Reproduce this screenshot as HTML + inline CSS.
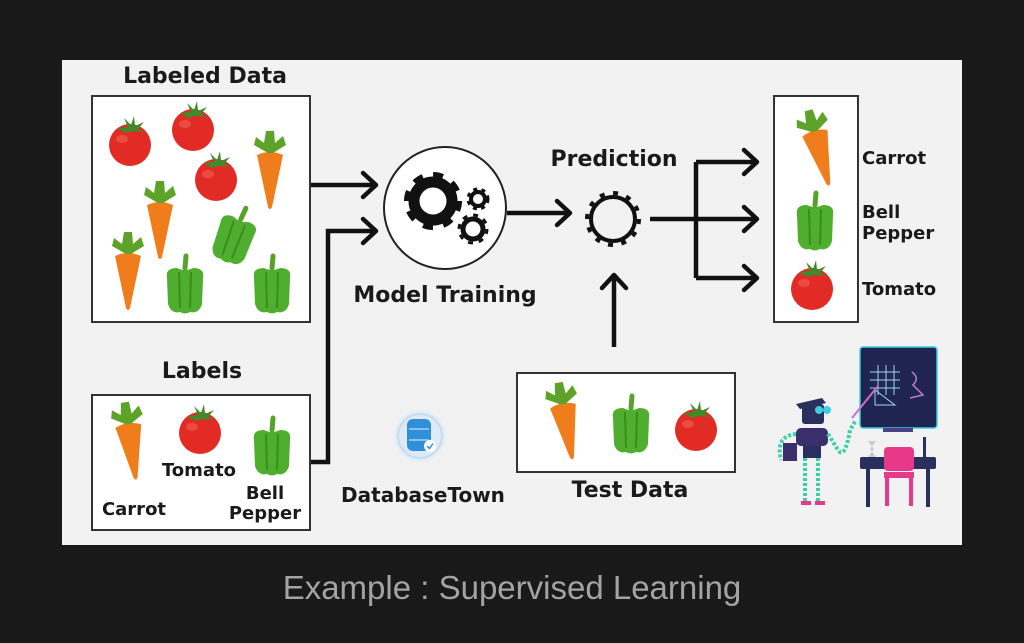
<!DOCTYPE html>
<html><head><meta charset="utf-8"><style>
html,body{margin:0;padding:0;background:#191919;width:1024px;height:643px;overflow:hidden}
svg{display:block}
text{font-family:"DejaVu Sans","Liberation Sans",sans-serif;font-weight:bold;fill:#1a1a1a}
</style></head><body>
<svg width="1024" height="643" viewBox="0 0 1024 643" xmlns="http://www.w3.org/2000/svg">
<defs>
<g id="tom">
 <circle cx="0" cy="3" r="21" fill="#e12b24"/>
 <ellipse cx="-8" cy="-3" rx="6" ry="4" fill="#f06058" opacity=".6"/>
 <path d="M-13,-14 L-2,-15 L-6,-24 L1,-17 L4,-26 L5,-16 L14,-20 L8,-13 L16,-10 L2,-11 L-4,-9 Z" fill="#3f8a2a"/>
</g>
<g id="car">
 <path d="M-13,-12 Q0,-18 13,-12 L2,40 Q0,44 -2,40 Z" fill="#f07d1c"/>
 <path d="M-2,-14 L-16,-22 L-14,-30 L-6,-24 L-4,-36 L4,-36 L5,-24 L13,-31 L16,-22 L3,-14 Z" fill="#5ea329"/>
</g>
<g id="pep">
 <path d="M-18,-10 Q-20,-20 -8,-20 Q0,-16 8,-20 Q20,-20 18,-10 L17,16 Q14,26 5,24 Q0,27 -5,24 Q-14,26 -17,16 Z" fill="#4fae2d"/>
 <path d="M-6,-16 L-5,20 M6,-16 L5,20" stroke="#3a8c20" stroke-width="2" fill="none"/>
 <path d="M0,-20 L1,-32" stroke="#5aa12c" stroke-width="5" stroke-linecap="round"/>
</g>
<g id="arrR"><path d="M-13,-12 L0,0 L-13,12" fill="none" stroke="#111" stroke-width="4.5" stroke-linecap="round" stroke-linejoin="round"/></g>
</defs>
<rect x="62" y="60" width="900" height="485" fill="#f2f2f2"/>

<text x="205" y="83" font-size="22" text-anchor="middle">Labeled Data</text>
<rect x="92" y="96" width="218" height="226" fill="#fff" stroke="#333" stroke-width="2"/>
<use href="#tom" x="130" y="142"/>
<use href="#tom" x="193" y="127"/>
<use href="#tom" x="216" y="177"/>
<use href="#car" x="270" y="167"/>
<use href="#car" x="160" y="217"/>
<use href="#car" x="128" y="268"/>
<use href="#pep" x="234" y="238" transform="rotate(20 234 238)"/>
<use href="#pep" x="185" y="288"/>
<use href="#pep" x="272" y="288"/>

<line x1="311" y1="185" x2="375" y2="185" stroke="#111" stroke-width="4.5"/>
<use href="#arrR" x="376" y="185"/>
<path d="M311,462 L328,462 L328,231 L375,231" fill="none" stroke="#111" stroke-width="4.5"/>
<use href="#arrR" x="376" y="231"/>

<circle cx="445" cy="208" r="61" fill="#fff" stroke="#222" stroke-width="2"/>
<circle cx="433" cy="201" r="19" fill="none" stroke="#111" stroke-width="11"/>
<circle cx="433" cy="201" r="26" fill="none" stroke="#111" stroke-width="6" stroke-dasharray="10 10.4"/>
<circle cx="478" cy="199" r="7" fill="none" stroke="#111" stroke-width="4"/>
<circle cx="478" cy="199" r="10" fill="none" stroke="#111" stroke-width="3" stroke-dasharray="4 4.4"/>
<circle cx="473" cy="229" r="10" fill="none" stroke="#111" stroke-width="5"/>
<circle cx="473" cy="229" r="14" fill="none" stroke="#111" stroke-width="3" stroke-dasharray="5 6"/>
<text x="445" y="302" font-size="22" text-anchor="middle">Model Training</text>

<line x1="507" y1="213" x2="568" y2="213" stroke="#111" stroke-width="4.5"/>
<use href="#arrR" x="570" y="213"/>
<circle cx="613" cy="219" r="22" fill="none" stroke="#111" stroke-width="4"/>
<circle cx="613" cy="219" r="26" fill="none" stroke="#111" stroke-width="4" stroke-dasharray="5 8.6"/>
<text x="614" y="166" font-size="22" text-anchor="middle">Prediction</text>

<path d="M650,219 L696,219 M696,162 L696,278 M696,162 L755,162 M696,278 L755,278 M696,219 L755,219" fill="none" stroke="#111" stroke-width="4.5"/>
<use href="#arrR" x="757" y="162"/>
<use href="#arrR" x="757" y="219"/>
<use href="#arrR" x="757" y="278"/>

<rect x="774" y="96" width="84" height="226" fill="#fff" stroke="#333" stroke-width="2"/>
<use href="#car" x="818" y="145" transform="rotate(-15 818 145)"/>
<use href="#pep" x="815" y="225"/>
<use href="#tom" x="812" y="286"/>
<text x="862" y="164" font-size="18">Carrot</text>
<text x="862" y="218" font-size="18">Bell</text>
<text x="862" y="239" font-size="18">Pepper</text>
<text x="862" y="295" font-size="18">Tomato</text>

<line x1="614" y1="347" x2="614" y2="276" stroke="#111" stroke-width="4.5"/>
<path d="M602,288 L614,275 L626,288" fill="none" stroke="#111" stroke-width="4.5" stroke-linecap="round" stroke-linejoin="round"/>

<rect x="517" y="373" width="218" height="99" fill="#fff" stroke="#333" stroke-width="2"/>
<use href="#car" x="565" y="418" transform="rotate(-10 565 418)"/>
<use href="#pep" x="631" y="428"/>
<use href="#tom" x="696" y="427"/>
<text x="630" y="497" font-size="22" text-anchor="middle">Test Data</text>

<text x="202" y="378" font-size="22" text-anchor="middle">Labels</text>
<rect x="92" y="395" width="218" height="135" fill="#fff" stroke="#333" stroke-width="2"/>
<use href="#car" x="130" y="438" transform="rotate(-8 130 438)"/>
<use href="#tom" x="200" y="430"/>
<use href="#pep" x="272" y="450"/>
<text x="199" y="476" font-size="18" text-anchor="middle">Tomato</text>
<text x="134" y="515" font-size="18" text-anchor="middle">Carrot</text>
<text x="265" y="499" font-size="18" text-anchor="middle">Bell</text>
<text x="265" y="519" font-size="18" text-anchor="middle">Pepper</text>

<circle cx="420" cy="436" r="26" fill="#e3eef7"/>
<circle cx="420" cy="436" r="22" fill="#dcebf7" stroke="#c8dcec" stroke-width="2"/>
<rect x="407" y="419" width="24" height="32" rx="6" fill="#2f8fd8"/>
<path d="M409,429 L429,429 M409,440 L429,440" stroke="#a8d2f2" stroke-width="1.5"/>
<circle cx="430" cy="446" r="6" fill="#fff"/>
<path d="M427,446 L429.5,448.5 L433,443.5" stroke="#2f8fd8" stroke-width="1.5" fill="none"/>
<text x="423" y="502" font-size="20" text-anchor="middle">DatabaseTown</text>

<rect x="860" y="347" width="77" height="81" rx="3" fill="#1f2550" stroke="#3ad0e0" stroke-width="1.5"/>
<path d="M870,372 L900,372 M870,380 L900,380 M870,388 L900,388 M878,365 L878,395 M886,365 L886,395 M894,365 L894,395" stroke="#9ad7ef" stroke-width="1"/>
<path d="M875,405 L895,405 L875,390 Z" fill="none" stroke="#9ad7ef" stroke-width="1"/>
<path d="M912,372 Q920,378 913,385 L923,395 L910,398" fill="none" stroke="#c07ad0" stroke-width="1.5"/>
<rect x="883" y="428" width="30" height="4" fill="#4a3f8a"/>
<rect x="860" y="457" width="76" height="12" rx="2" fill="#2a2f5e"/>
<rect x="866" y="469" width="4" height="38" fill="#2a2f5e"/>
<rect x="926" y="469" width="4" height="38" fill="#2a2f5e"/>
<rect x="884" y="447" width="30" height="24" rx="4" fill="#e8388a"/>
<rect x="884" y="472" width="30" height="6" fill="#e8388a"/>
<rect x="885" y="478" width="4" height="28" fill="#e8388a"/>
<rect x="909" y="478" width="4" height="28" fill="#e8388a"/>
<path d="M868,441 L876,441 L870,449 L876,457 L868,457 L874,449 Z" fill="#c8c8d8"/>
<rect x="923" y="437" width="3" height="20" fill="#2a2f5e"/>
<path d="M796,404 L822,398 L826,403 L800,409 Z" fill="#2a2f5e"/>
<rect x="802" y="404" width="22" height="20" rx="3" fill="#2a2f5e"/>
<circle cx="819" cy="410" r="4" fill="#3ad0e0"/>
<circle cx="827" cy="410" r="4" fill="#3ad0e0"/>
<rect x="796" y="428" width="32" height="18" rx="5" fill="#3a2f6a"/>
<rect x="803" y="446" width="18" height="12" fill="#2a2f5e"/>
<path d="M805,458 L805,503 M818,458 L818,503" stroke="#3ad0a8" stroke-width="4" stroke-dasharray="3 2"/>
<path d="M796,434 Q775,436 781,460" stroke="#3ad0a8" stroke-width="4" fill="none" stroke-dasharray="3 2"/>
<path d="M828,434 L838,450 Q845,460 850,430 L856,420" stroke="#3ad0a8" stroke-width="4" fill="none" stroke-dasharray="3 2"/>
<rect x="783" y="443" width="14" height="18" fill="#3a2f6a"/>
<path d="M852,418 L878,386" stroke="#d06ad0" stroke-width="2"/>
<path d="M801,503 L811,503 M815,503 L825,503" stroke="#e8388a" stroke-width="4"/>

<text x="512" y="599" font-size="33" text-anchor="middle" style="font-family:'Liberation Sans',sans-serif;font-weight:normal;fill:#a3a3a3">Example : Supervised Learning</text>
</svg>
</body></html>
